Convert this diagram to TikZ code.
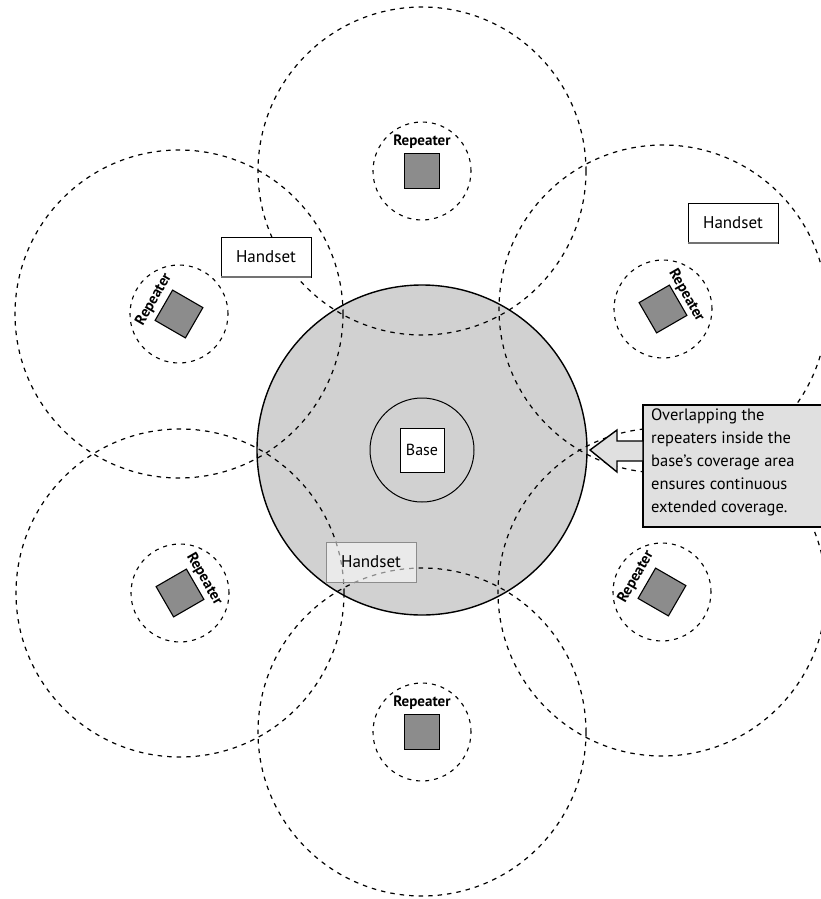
\documentclass[tikz,border=0pt]{standalone}
\usepackage{fontspec}
\setmainfont{PT Sans}
\begin{document}
\begin{tikzpicture}[x=1pt,y=1pt,
  bigc/.style={draw=black, line width=1.2pt, dash pattern=on 4.5pt off 5pt},
  smallc/.style={draw=black, line width=1.1pt, dash pattern=on 4pt off 5pt},
  rsq/.style={draw=black, line width=1.1pt, fill=gray!90!white, minimum size=35pt, inner sep=0pt},
  rlab/.style={font=\fontsize{15}{16}\selectfont\bfseries, inner sep=0pt},
  handset/.style={draw=black, line width=0.8pt, fill=white, minimum width=90pt, minimum height=40pt, inner sep=0pt, font=\fontsize{17}{19}\selectfont},
  calloutfill/.style={fill=black!12, draw=black, line width=1.4pt}
]
\useasboundingbox (0,0) rectangle (821,-899);
\fill[white] (0,0) rectangle (821,-899);

% base coverage
\coordinate (B) at (422,-450);
\draw[fill=black!18, line width=1.4pt] (B) circle[radius=165pt];

% repeater centres
\coordinate (c1) at (422,-171);
\coordinate (c2) at (663,-309);
\coordinate (c3) at (662,-592);
\coordinate (c4) at (422,-732);
\coordinate (c5) at (180,-593);
\coordinate (c6) at (179,-314);

% big coverage circles
\foreach \c in {c1,c2,c3,c4,c5,c6}{
  \draw[bigc] (\c) circle[radius=164pt];
  \draw[smallc] (\c) circle[radius=49pt];
}

% repeaters
\begin{scope}[shift={(c1)}]
  \node[rsq] (s1) at (0,0) {};
  \node[rlab] (l1) at (0,29) {Repeater};
\end{scope}
\begin{scope}[shift={(c2)}, rotate=-60, transform shape]
  \node[rsq] (s2) at (0,0) {};
  \node[rlab] (l2) at (0,27) {Repeater};
\end{scope}
\begin{scope}[shift={(c3)}, rotate=60, transform shape]
  \node[rsq] (s3) at (0,0) {};
  \node[rlab] (l3) at (0,30) {Repeater};
\end{scope}
\begin{scope}[shift={(c4)}]
  \node[rsq] (s4) at (0,0) {};
  \node[rlab] (l4) at (0,29) {Repeater};
\end{scope}
\begin{scope}[shift={(c5)}, rotate=-60, transform shape]
  \node[rsq] (s5) at (0,0) {};
  \node[rlab] (l5) at (0,28) {Repeater};
\end{scope}
\begin{scope}[shift={(c6)}, rotate=60, transform shape]
  \node[rsq] (s6) at (0,0) {};
  \node[rlab] (l6) at (0,29) {Repeater};
\end{scope}

% base station
\draw[line width=1pt] (B) circle[radius=52pt];
\node[draw=black, line width=1pt, fill=white, minimum size=44pt, inner sep=0pt,
      font=\fontsize{16}{18}\selectfont] (base) at (B) {Base};

% handsets
\node[handset] (h1) at (266,-257) {Handset};
\draw[black!55, line width=2pt] ([xshift=0.5pt]h1.south west) -- ([xshift=-0.5pt]h1.south east);
\node[handset] (h2) at (733,-223) {Handset};
\draw[black!55, line width=2pt] ([xshift=0.5pt]h2.south west) -- ([xshift=-0.5pt]h2.south east);
\node[handset, draw=black!45, fill opacity=0.55, text opacity=1] (h3) at (371,-562) {Handset};

% callout
\draw[calloutfill] (643,-405) rectangle (840,-527);
\node[anchor=north west, align=left, inner sep=0pt,
      font=\fontsize{16.5}{22.8}\selectfont] (note) at (651,-409)
  {Overlapping the\\repeaters inside the\\base's coverage area\\ensures continuous\\extended coverage.};
\draw[calloutfill, line join=miter] (590,-450) -- (617,-430) -- (617,-441) -- (643,-441)
  -- (643,-461) -- (617,-461) -- (617,-472) -- cycle;
\end{tikzpicture}
\end{document}
